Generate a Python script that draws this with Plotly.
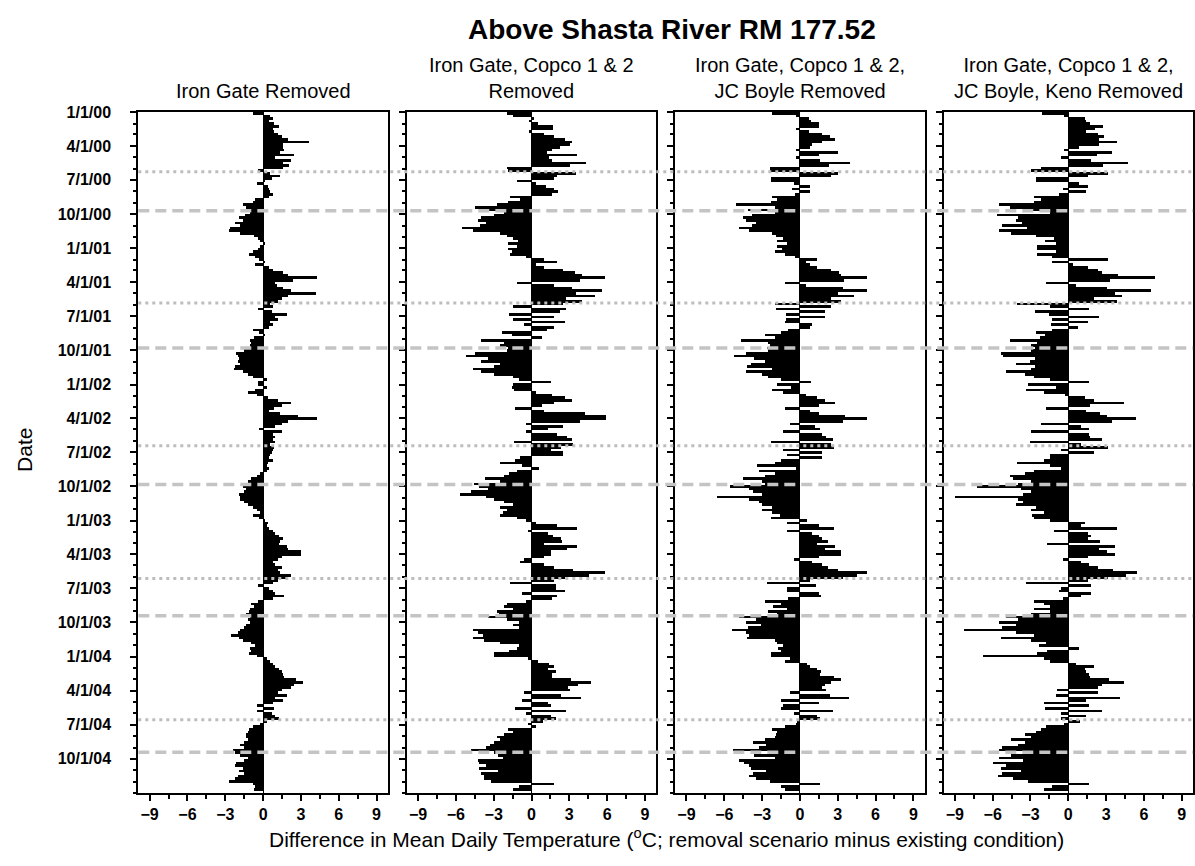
import pandas as pd
import plotly.graph_objects as go

W, H = 1195, 866
FONT = "Liberation Sans, Arial, sans-serif"

# Weekly differences in mean daily temperature (deg C), removal scenario minus
# existing condition, Jan 2000 - Dec 2004 (13 weeks per row = one quarter).
iron_gate = [
    -0.8, 0.6, 0.8, 0.5, 0.9, 1.3, 0.8, 0.9, 1.2, 1.5, 2.0, 3.7, 1.6,
    1.6, 1.7, 1.4, 2.5, 1.0, 2.2, 1.6, 2.1, 1.6, -0.4, 0.6, 1.4, 0.7,
    0.2, -0.5, 0.4, 0.5, 0.6, 0.8, 0.5, -0.6, -0.8, -1.6, -1.3, -1.2, -1.0,
    -1.4, -1.9, -1.6, -2.2, -1.8, -2.6, -2.7, -1.8, -0.7, -0.4, -0.2, 0.2, -0.2,
    -0.4, -0.8, -1.1, -0.6, -0.3, 0.2, -0.6, 0.5, 0.8, 1.6, 2.0, 4.3, 2.4,
    1.0, 1.1, 1.6, 2.2, 4.2, 2.0, 1.5, 1.2, 0.6, 0.8, -0.4, 0.7, 1.9,
    1.0, 1.2, 0.6, 0.8, 0.5, -0.8, -0.3, 0.2, -0.7, -1.0, -0.9, -1.0, -1.1,
    -1.5, -2.1, -2.0, -1.9, -2.0, -1.8, -2.2, -2.3, -1.6, -1.2, -0.8, 0.3, -0.4,
    -0.4, 0.3, -0.6, -1.2, -0.5, 0.4, 1.2, 2.2, 1.5, 0.9, 0.5, 1.4, 2.8,
    4.3, 2.0, 1.5, 1.0, -0.3, 1.5, 0.8, 1.0, 0.8, 1.0, 0.6, 0.9, 0.8,
    0.7, 0.6, 0.5, 0.8, 0.4, 0.3, 0.5, 0.3, -0.2, -0.5, -0.9, -1.2, -1.5,
    -1.6, -1.3, -1.5, -1.9, -1.8, -1.8, -1.5, -1.2, -0.8, -0.5, -0.2, -0.8, -0.3,
    0.2, 0.4, 0.3, 0.5, 0.8, 1.0, 1.3, 1.6, 1.4, 1.3, 1.9, 2.0, 3.0,
    3.0, 1.5, 1.2, 0.8, 1.0, 1.5, 1.2, 1.4, 2.2, 2.0, 1.2, 0.8, -0.4,
    0.5, 0.8, 1.0, 1.7, 0.8, -0.4, -0.9, -0.7, -1.0, -1.1, -1.3, -1.0, -1.2,
    -1.0, -1.3, -1.5, -1.8, -2.0, -2.5, -1.9, -1.6, -0.9, -0.6, -1.0, -0.9, -1.1,
    -0.5, 0.3, 0.6, 0.8, 1.0, 1.3, 1.5, 1.6, 1.7, 2.6, 3.2, 2.5, 2.2,
    1.5, 1.2, 1.9, 1.0, 1.6, 0.8, -0.5, 0.9, -0.5, 0.7, 1.0, 1.3, 0.3,
    -0.2, -0.8, -1.1, -1.2, -1.3, -1.3, -1.2, -1.5, -1.8, -1.5, -2.4, -2.2, -1.8,
    -1.2, -1.5, -2.1, -2.2, -1.6, -1.9, -1.5, -2.0, -2.2, -2.7, -0.8, -0.6, -0.7,
]

copco = [
    -2.0, -1.5, 0.2, -0.2, 0.5, 1.7, 1.7, -0.2, 1.0, 1.8, 2.6, 3.2, 3.0,
    2.2, 1.6, 1.2, 3.6, 1.4, 1.6, 4.3, 3.0, -2.0, -1.9, 3.5, 2.0, 1.8,
    -1.2, 0.3, 1.1, 1.8, 2.1, 1.6, -1.7, -0.9, -1.9, -2.8, -4.5, -3.6, -2.2,
    -3.0, -4.0, -4.3, -3.6, -4.1, -5.5, -4.7, -2.5, -2.0, -1.5, -1.1, -1.9, -1.2,
    -1.9, -1.6, -1.7, -0.5, 1.0, 2.0, 0.3, 1.0, 2.5, 3.4, 4.0, 5.8, 3.8,
    -1.2, 1.8, 3.2, 5.6, 3.5, 5.0, 2.7, 4.0, 2.5, -1.5, 2.7, 2.2, -1.8,
    1.8, -1.5, 2.6, -0.6, 1.8, 1.2, -2.4, -1.6, 0.8, -4.0, -2.2, -2.5, -1.9,
    -2.0, -4.5, -5.2, -3.5, -4.0, -2.5, -3.0, -4.7, -4.0, -3.0, -1.5, -1.0, 1.5,
    -1.5, -1.6, -1.4, 0.3, 1.6, 2.6, 3.2, 1.8, 0.8, -1.3, 1.0, 4.2, 5.9,
    5.9, 3.8, -0.5, 2.5, 1.3, -0.5, 2.0, 2.8, 3.2, -1.4, 3.3, 2.3, 1.5,
    2.5, 2.5, -0.9, -1.3, -2.5, -0.8, 0.6, -1.2, -1.8, -2.2, -3.7, -2.5, -4.6,
    -4.2, -3.5, -4.8, -5.7, -3.6, -3.0, -2.2, -1.5, -2.5, -2.0, -2.3, -2.5, -1.2,
    -0.5, 0.3, 2.0, 3.6, -0.3, 1.3, 1.7, 2.3, 2.4, 1.0, 3.6, 2.8, 1.5,
    1.5, 1.0, -0.6, -0.9, 1.0, 1.8, 3.3, 5.8, 4.5, 2.6, 1.8, -1.7, 1.9,
    1.9, 2.6, -0.8, 2.0, 1.6, -0.5, -2.0, -2.2, -1.5, -2.8, -2.6, -3.5, -2.0,
    -1.0, -1.5, -1.0, -4.7, -4.3, -3.9, -4.7, -3.8, -2.5, -1.0, -1.2, -1.8, -3.0,
    -3.0, -0.3, 0.5, 1.4, 1.8, 1.3, 1.9, 1.6, 1.6, 3.1, 4.7, 3.7, 2.9,
    3.0, -0.6, 2.3, 3.9, -0.8, 1.3, 1.5, -1.3, 2.7, -0.5, 1.5, 1.9, 0.9,
    -0.3, 0.3, -1.9, -1.5, -2.2, -2.8, -2.5, -3.0, -3.3, -3.6, -4.8, -3.0, -2.7,
    -2.3, -4.3, -4.2, -3.6, -4.2, -2.7, -4.0, -3.8, -3.8, -3.2, 1.8, -1.0, -1.5,
]

jc_boyle = [
    -2.2, -0.3, 0.7, 0.9, 1.5, 1.5, -0.3, 0.7, 1.8, 2.4, 2.8, 1.8, 1.0,
    0.8, -0.3, 3.0, 1.5, -0.3, 1.6, 4.0, 2.3, -2.4, -2.4, 3.0, 2.5, -2.3,
    -2.3, -0.5, 0.8, -0.6, 0.8, -0.4, -2.2, -1.8, -2.3, -5.1, -2.0, -4.1, -2.0,
    -3.8, -4.5, -4.3, -3.5, -3.8, -4.8, -4.0, -2.2, -1.9, -1.3, -1.8, -1.0, -1.8,
    -1.4, -2.0, -1.2, -0.4, 1.4, 0.5, 0.8, 1.4, 2.5, 3.1, 3.3, 5.3, 3.5,
    -1.2, 0.5, 3.4, 5.3, 3.0, 4.3, 2.5, 3.3, -2.0, 2.5, -1.9, 2.0, -1.1,
    2.0, -1.1, -1.2, 1.0, 0.8, -0.9, -1.5, -2.8, -2.0, -4.7, -2.5, -2.4, -2.6,
    -2.5, -4.3, -5.2, -3.6, -2.8, -3.9, -4.2, -2.2, -4.3, -3.0, -2.5, -1.5, 0.9,
    -1.8, -0.7, -2.2, -1.3, 0.5, 1.4, 2.0, 2.8, 1.5, -1.2, 0.8, 1.5, 3.6,
    5.3, 3.4, -0.8, 1.2, 1.6, -1.3, 1.8, 2.1, 2.6, -2.3, 2.5, 2.7, -1.3,
    1.8, -1.0, 1.8, -1.5, -2.0, -3.4, -0.3, -3.2, -2.0, -2.8, -4.5, -3.0, -2.8,
    -5.5, -4.0, -3.7, -3.0, -6.6, -4.0, -3.2, -3.0, -2.2, -3.0, -2.2, -1.6, -2.3,
    0.6, -1.0, 1.5, 2.7, -1.0, 1.0, 1.5, 1.8, 2.2, 1.4, 2.8, 2.0, 3.3,
    3.3, 1.5, -0.5, 1.0, 1.8, 2.2, 3.0, 5.3, 4.5, 3.4, 0.8, -2.6, 1.3,
    -1.0, -1.0, 1.5, 1.7, -0.9, -2.8, -1.5, -2.1, -1.0, -2.5, -1.8, -4.8, -3.5,
    -4.3, -3.1, -4.1, -5.4, -4.3, -4.0, -4.2, -2.0, -1.8, -1.3, -1.7, -1.5, -2.3,
    -2.3, -0.8, -1.2, 0.6, 0.8, 1.4, 1.7, 1.6, 2.7, 3.3, 2.5, 2.0, 1.8,
    2.1, -0.8, 2.4, 3.9, -1.5, 1.5, -1.3, -1.5, 2.6, -0.5, 1.4, 1.6, -0.2,
    -0.3, -1.2, -2.2, -1.8, -1.9, -2.0, -2.8, -3.7, -2.7, -3.2, -5.3, -2.5, -3.6,
    -2.0, -4.8, -4.4, -4.0, -3.9, -2.7, -3.7, -4.0, -3.5, -2.4, 1.6, -1.5, -1.2,
]

keno = [
    -2.1, -0.4, 1.3, 1.4, 1.7, 2.7, 2.1, 1.4, 2.3, 2.8, 2.4, 3.8, 2.4,
    0.8, -0.4, 3.4, 2.2, -0.6, 1.8, 4.7, 2.7, -2.2, -3.0, 3.1, 1.5, -2.6,
    -2.6, 0.8, 1.5, -0.5, 1.4, -0.8, -2.8, -2.2, -2.8, -5.5, -4.7, -3.0, -1.5,
    -5.7, -4.0, -4.2, -3.7, -5.3, -3.3, -5.5, -4.6, -2.6, -1.2, -1.9, -1.0, -2.5,
    -2.5, -1.0, -2.5, -1.3, 3.1, -1.3, 0.3, 1.5, 2.3, 2.6, 3.9, 6.8, 3.3,
    -1.8, 0.6, 3.0, 6.5, 3.7, 4.2, 2.0, 3.8, -4.1, -1.5, 1.6, -2.7, -1.6,
    2.4, -1.3, 1.5, -1.4, 0.7, -1.3, -2.6, -1.9, -2.3, -4.7, -2.5, -3.0, -2.7,
    -3.0, -5.4, -5.2, -2.7, -3.1, -4.2, -2.7, -3.0, -5.0, -3.5, -2.8, -1.5, 1.6,
    -3.2, -1.0, -3.4, -2.0, -0.3, 1.3, 2.0, 4.4, 1.7, -1.8, 1.4, 2.5, 3.0,
    5.3, 3.4, -2.2, 1.0, 1.6, -3.0, 1.6, 1.7, 2.6, -3.1, 1.0, 3.1, -0.6,
    2.0, -1.5, -1.5, -2.0, -4.1, -1.5, -0.6, -2.8, -3.5, -4.7, -4.4, -3.0, -4.0,
    -7.3, -3.8, -3.0, -3.6, -9.0, -4.0, -3.6, -4.2, -2.6, -3.0, -2.0, -2.9, -2.8,
    -1.5, 1.3, 1.0, 3.8, -1.2, 1.5, 1.8, 1.5, 2.5, -1.7, 3.7, 2.4, 3.0,
    3.7, 1.5, -0.5, 1.0, 1.6, 2.3, 3.5, 5.4, 4.5, 3.1, 1.5, -3.4, 1.8,
    -0.6, -0.8, 1.8, 1.0, -0.5, -2.8, -2.0, -1.5, -2.8, -1.5, -3.0, -5.0, -4.0,
    -5.5, -4.2, -5.3, -8.3, -4.2, -2.8, -5.4, -3.0, -1.8, -2.4, 0.8, -1.7, -2.5,
    -6.8, -2.0, -1.5, 0.6, 2.0, 1.3, 1.4, 1.6, 1.7, 3.2, 4.4, 2.6, 2.3,
    -0.9, 2.3, -1.0, 4.1, 1.4, -2.0, 1.6, -1.9, 2.6, -0.6, 1.4, -0.6, 0.9,
    -0.4, -1.8, -2.2, -2.6, -3.5, -3.0, -4.6, -3.5, -4.0, -5.3, -5.5, -3.5, -4.6,
    -5.5, -3.6, -6.0, -5.0, -5.4, -3.8, -5.3, -5.6, -4.4, -3.2, 1.6, -1.3, -2.0,
]

scenarios = [
    "Iron Gate Removed",
    "Iron Gate, Copco 1 & 2<br>Removed",
    "Iron Gate, Copco 1 & 2,<br>JC Boyle Removed",
    "Iron Gate, Copco 1 & 2,<br>JC Boyle, Keno Removed",
]
series = [iron_gate, copco, jc_boyle, keno]

temp_ticks = [-9, -6, -3, 0, 3, 6, 9]
date_ticks = pd.date_range("2000-01-01", "2004-10-01", freq="3MS")
dotted_dates = ["2000-06-09", "2001-05-27", "2002-06-14", "2003-06-05", "2004-06-18"]
dashed_dates = ["2000-09-22", "2001-09-25", "2002-09-26", "2003-09-13", "2004-09-13"]

start = pd.Timestamp("2000-01-01")
week_mid = [start + pd.Timedelta(days=7 * i + 3.5) for i in range(len(iron_gate))]
WEEK_MS = 7 * 86400000

# panel geometry (pixels)
PLOT_TOP, PLOT_BOTTOM = 105, 792.5
PANEL_W, PANEL_STEP, FIRST_LEFT = 249.6, 268.4, 138.3
y_dom = [(H - PLOT_BOTTOM) / H, (H - PLOT_TOP) / H]

fig = go.Figure()
layout = dict(
    width=W, height=H,
    margin=dict(l=0, r=0, t=0, b=0),
    paper_bgcolor="white", plot_bgcolor="white",
    showlegend=False,
    font=dict(family=FONT, color="black"),
    bargap=0,
)

annotations = []
for k, (name, vals) in enumerate(zip(scenarios, series)):
    sfx = "" if k == 0 else str(k + 1)
    left = FIRST_LEFT + k * PANEL_STEP
    right = left + PANEL_W
    fig.add_trace(go.Bar(
        x=vals, y=week_mid, orientation="h", width=WEEK_MS,
        marker=dict(color="black", line=dict(width=0)),
        xaxis="x" + sfx, yaxis="y" + sfx, hoverinfo="skip",
    ))
    layout["xaxis" + sfx] = dict(
        domain=[left / W, right / W], anchor="y" + sfx,
        range=[-9.9, 9.9], tickmode="array", tickvals=temp_ticks,
        ticks="outside", ticklen=6, tickwidth=1.5, tickcolor="black",
        minor=dict(ticks="outside", dtick=1.5, tick0=0, ticklen=4,
                   tickwidth=1.5, tickcolor="black"),
        showline=True, linecolor="black", linewidth=2, mirror=True,
        showgrid=False, zeroline=True, zerolinecolor="black", zerolinewidth=1,
        tickfont=dict(family=FONT, size=16, weight="bold"),
        fixedrange=True,
    )
    layout["yaxis" + sfx] = dict(
        domain=y_dom, anchor="x" + sfx, type="date",
        range=["2005-01-01", "2000-01-01"],
        tickmode="array", tickvals=list(date_ticks), tickformat="%-m/%-d/%y",
        showticklabels=(k == 0), ticklabelstandoff=16,
        ticks="outside", ticklen=6, tickwidth=1.5, tickcolor="black",
        minor=dict(ticks="outside", dtick="M1", tick0="2000-01-01", ticklen=3,
                   tickwidth=1.5, tickcolor="black"),
        showline=True, linecolor="black", linewidth=2, mirror=True,
        showgrid=False, zeroline=False,
        tickfont=dict(family=FONT, size=16, weight="bold"),
        fixedrange=True,
    )
    if k > 0:
        layout["yaxis" + sfx]["matches"] = "y"
    annotations.append(dict(
        text=name, x=(left + right) / 2 / W, y=1 - 97 / H,
        xref="paper", yref="paper", xanchor="center", yanchor="bottom",
        showarrow=False, font=dict(family=FONT, size=20), align="center",
    ))

annotations += [
    dict(text="<b>Above Shasta River RM 177.52</b>", x=672 / W, y=1 - 22 / H,
         xref="paper", yref="paper", xanchor="center", yanchor="middle",
         showarrow=False, font=dict(family=FONT, size=28)),
    dict(text="Difference in Mean Daily Temperature (<sup>o</sup>C; removal scenario minus existing condition)",
         x=666 / W, y=1 - 838 / H, xref="paper", yref="paper",
         xanchor="center", yanchor="middle", showarrow=False,
         font=dict(family=FONT, size=21)),
    dict(text="Date", x=25 / W, y=1 - 446 / H, xref="paper", yref="paper",
         xanchor="center", yanchor="middle", textangle=-90, showarrow=False,
         font=dict(family=FONT, size=21)),
]
layout["annotations"] = annotations

shapes = []
x0 = FIRST_LEFT / W
x1 = (FIRST_LEFT + 3 * PANEL_STEP + PANEL_W) / W
for d in dotted_dates:
    shapes.append(dict(type="line", xref="paper", yref="y", x0=x0, x1=x1, y0=d, y1=d,
                       line=dict(color="#bdbdbd", width=3, dash="3px,4px"), layer="above"))
for d in dashed_dates:
    shapes.append(dict(type="line", xref="paper", yref="y", x0=x0, x1=x1, y0=d, y1=d,
                       line=dict(color="#c4c4c4", width=3.5, dash="11px,6px"), layer="above"))
layout["shapes"] = shapes

fig.update_layout(**layout)
fig.write_html("out.html")
